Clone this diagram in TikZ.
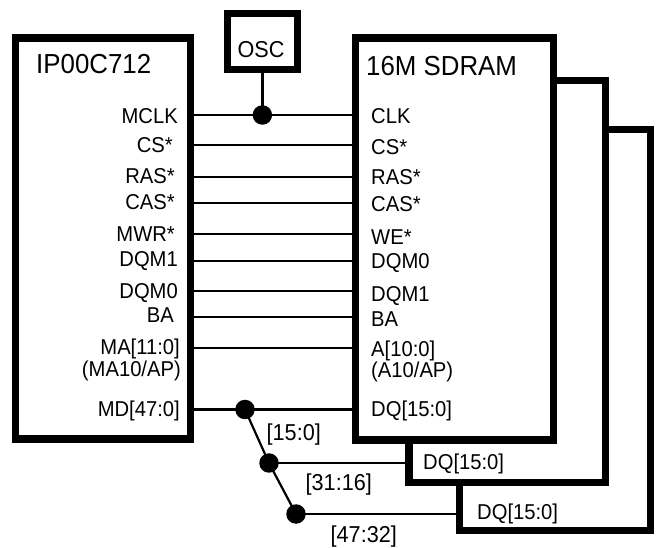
\documentclass[tikz,border=0pt]{standalone}
\usepackage{fontspec}
\setmainfont{Liberation Sans}[FakeStretch=0.94]
\begin{document}
\begin{tikzpicture}[x=1pt,y=-1pt,
  chip/.style={draw, line width=7.5pt, fill=white, inner sep=0pt, outer sep=3.75pt},
  oscbox/.style={draw, line width=6.5pt, fill=white, inner sep=0pt, outer sep=3.25pt},
  wire/.style={line width=2.2pt},
  junc/.style={circle, fill=black, inner sep=0pt, minimum size=19.5pt},
  title/.style={inner sep=0pt, font=\fontsize{27.5}{30}\selectfont},
  pin/.style={inner sep=0pt, font=\fontsize{21.5}{22}\selectfont},
  pinl/.style={pin, anchor=base east},
  pinr/.style={pin, anchor=base west},
  buslbl/.style={inner sep=0pt, anchor=base west, font=\fontsize{23}{24}\selectfont}]
\useasboundingbox (0,0) rectangle (657,548);

% boxes
\node[chip, minimum width=174.75pt, minimum height=401.25pt] (ip) at (102.9,238.6) {};
\node[chip, minimum width=190.75pt, minimum height=401pt] (m3) at (555.1,330) {};
\node[chip, minimum width=196.5pt, minimum height=401.75pt] (m2) at (507,281.4) {};
\node[chip, minimum width=197.75pt, minimum height=401.75pt] (m1) at (454.6,239.1) {};
\node[oscbox, minimum width=70.25pt, minimum height=56.25pt] (osc) at (262.4,41.4) {};
\node[inner sep=0pt, anchor=base, font=\fontsize{23}{24}\selectfont] (osct) at (261,57.5) {OSC};

% titles
\node[title, anchor=base west] (tip) at (36,73.3) {IP00C712};
\node[title, anchor=base west] (tsd) at (366,76) {16M SDRAM};

% wires
\foreach \y in {115,145,177,203,234,261,291,317,348,409.5}
  \draw[wire] (ip.east |- 0,\y) -- (m1.west |- 0,\y);

% clock junction
\node[junc] (jc) at (262.4,115) {};
\draw[wire] (osc.south) -- (jc.center);

% data bus junctions
\node[junc] (d1) at (245,409.5) {};
\node[junc] (d2) at (269,463) {};
\node[junc] (d3) at (296,514) {};
\draw[wire] (d1.center) -- (d2.center) -- (d3.center);
\draw[wire] (d2.center) -- (m2.west |- d2.center);
\draw[wire] (d3.center) -- (m3.west |- d3.center);

% left pin labels
\node[pinl] (lmclk) at (178,123.3) {MCLK};
\node[pinl] (lcs) at (173,152.7) {CS*};
\node[pinl] (lras) at (175,184) {RAS*};
\node[pinl] (lcas) at (175,210) {CAS*};
\node[pinl] (lmwr) at (175,241.7) {MWR*};
\node[pinl] (ldqm1) at (178,267) {DQM1};
\node[pinl] (ldqm0) at (178,298.3) {DQM0};
\node[pinl] (lba) at (174,322.7) {BA};
\node[pinl] (lma) at (180,354.5) {MA[11:0]};
\node[pinl] (lma10) at (181,376.5) {(MA10/AP)};
\node[pinl] (lmd) at (180,416.5) {MD[47:0]};

% right pin labels
\node[pinr] (rclk) at (371,124) {CLK};
\node[pinr] (rcs) at (371,155) {CS*};
\node[pinr] (rras) at (371,185) {RAS*};
\node[pinr] (rcas) at (371,211.5) {CAS*};
\node[pinr] (rwe) at (371,245) {WE*};
\node[pinr] (rdqm0) at (371,268.5) {DQM0};
\node[pinr] (rdqm1) at (371,301.5) {DQM1};
\node[pinr] (rba) at (371,326.5) {BA};
\node[pinr] (ra) at (371,356.5) {A[10:0]};
\node[pinr] (ra10) at (371,377.5) {(A10/AP)};
\node[pinr] (rdq) at (371,416.5) {DQ[15:0]};
\node[pinr] (rdq2) at (423,470) {DQ[15:0]};
\node[pinr] (rdq3) at (477,519.5) {DQ[15:0]};

% bus labels
\node[buslbl] (b1) at (266.5,440.5) {[15:0]};
\node[buslbl] (b2) at (305.5,490.5) {[31:16]};
\node[buslbl] (b3) at (330.5,542.5) {[47:32]};
\end{tikzpicture}
\end{document}
